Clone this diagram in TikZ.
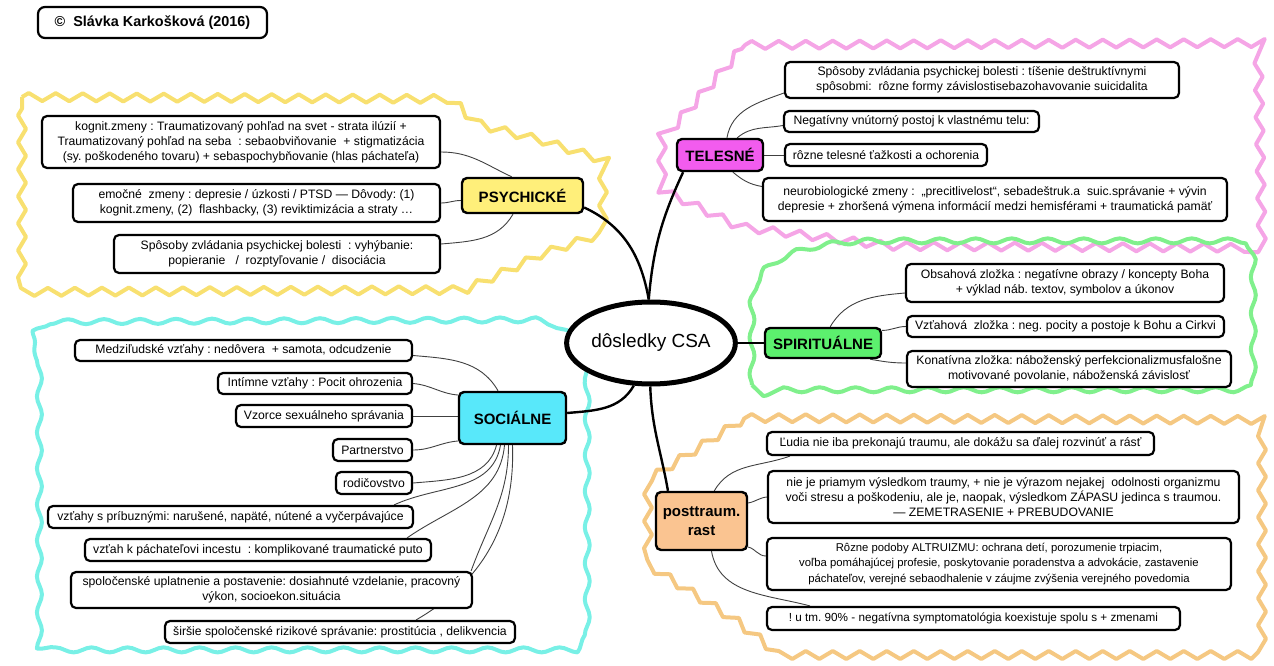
\documentclass[tikz,border=0pt]{standalone}
\usepackage{fontspec}
\setmainfont{Liberation Sans}
\frenchspacing
\usetikzlibrary{shapes.geometric,decorations.pathmorphing,backgrounds}

\definecolor{psyfill}{RGB}{255,239,122}
\definecolor{psyline}{RGB}{248,224,112}
\definecolor{telfill}{RGB}{242,92,238}
\definecolor{telline}{RGB}{245,165,230}
\definecolor{spifill}{RGB}{92,240,110}
\definecolor{spiline}{RGB}{128,240,140}
\definecolor{socfill}{RGB}{88,232,250}
\definecolor{socline}{RGB}{120,240,230}
\definecolor{ptrfill}{RGB}{250,196,145}
\definecolor{ptrline}{RGB}{245,200,130}

\begin{document}
\begin{tikzpicture}[x=1pt,y=1pt,
    leaf/.style={draw,line width=2.2pt,rounded corners=5pt,fill=white,align=center,
      inner sep=2pt,font=\fontsize{12.2}{15}\selectfont},
    topic/.style={draw,line width=2.4pt,rounded corners=5pt,align=center,inner sep=2pt,
      font=\fontsize{15}{19}\selectfont\bfseries},
    twig/.style={line width=0.9pt,draw=black!75},
    branch/.style={line width=2.4pt},
    zig/.style={line width=4pt,line join=round,decorate,
      decoration={zigzag,segment length=27pt,amplitude=4pt}},
    wave/.style={line width=4pt,line join=round,decorate,
      decoration={snake,segment length=36pt,amplitude=2.5pt}}]

    \useasboundingbox (0,0) rectangle (1274,-666);

    \node[leaf,minimum width=229pt,minimum height=31pt,rounded corners=7pt,
      font=\fontsize{14.4}{17}\selectfont\bfseries] (cpr) at (152.5,-22.5) {©\ \ Slávka Karkošková (2016)};

    \node[ellipse,draw,line width=5pt,fill=white,minimum width=163pt,minimum height=82pt,
      inner sep=0pt,font=\fontsize{19}{22}\selectfont] (csa) at (651,-343) {dôsledky CSA};

    \node[topic,fill=psyfill,minimum width=121pt,minimum height=35pt] (psy) at (522.5,-195.5) {PSYCHICKÉ};
    \node[topic,fill=telfill,minimum width=86pt,minimum height=32pt] (tel) at (720,-155) {TELESNÉ};
    \node[topic,fill=spifill,minimum width=116pt,minimum height=30pt] (spi) at (823,-343) {SPIRITUÁLNE};
    \node[topic,fill=socfill,minimum width=107pt,minimum height=52pt] (soc) at (512.5,-418) {SOCIÁLNE};
    \node[topic,fill=ptrfill,minimum width=91pt,minimum height=58pt] (ptr) at (701.5,-521) {posttraum.\\rast};

    \node[leaf,minimum width=398pt,minimum height=52pt] (kog) at (241,-142)
      {kognit.zmeny : Traumatizovaný pohľad na svet - strata ilúzií +\\
       Traumatizovaný pohľad na seba \ : sebaobviňovanie \ + stigmatizácia\\
       (sy. poškodeného tovaru) + sebaspochybňovanie (hlas páchateľa)};
    \node[leaf,minimum width=367pt,minimum height=38pt] (emo) at (256.5,-203)
      {emočné \ zmeny : depresie / úzkosti / PTSD — Dôvody: (1)\\
       kognit.zmeny, (2) \ flashbacky, (3) reviktimizácia a straty …};
    \node[leaf,minimum width=326pt,minimum height=38pt] (spo) at (277,-254)
      {Spôsoby zvládania psychickej bolesti \ : vyhýbanie:\\
       popieranie \ \ / \ rozptyľovanie / \ disociácia};

    \node[leaf,minimum width=394pt,minimum height=36pt] (t1) at (982,-80)
      {Spôsoby zvládania psychickej bolesti : tíšenie deštruktívnymi\\
       spôsobmi: \ rôzne formy závislostisebazohavovanie suicidalita};
    \node[leaf,minimum width=255pt,minimum height=21pt] (t2) at (911.5,-121.5)
      {Negatívny vnútorný postoj k vlastnému telu:};
    \node[leaf,minimum width=202pt,minimum height=22pt] (t3) at (886,-155)
      {rôzne telesné ťažkosti a ochorenia};
    \node[leaf,minimum width=464pt,minimum height=43pt] (t4) at (995,-199.5)
      {neurobiologické zmeny : \ „precitlivelost“, sebadeštruk.a \ suic.správanie + vývin\\
       depresie + zhoršená výmena informácií medzi hemisférami + traumatická pamäť};

    \node[leaf,minimum width=318pt,minimum height=38pt] (s1) at (1065,-283)
      {Obsahová zložka : negatívne obrazy / koncepty Boha\\
       + výklad náb. textov, symbolov a úkonov};
    \node[leaf,minimum width=317pt,minimum height=21pt] (s2) at (1065.5,-326.5)
      {Vzťahová \ zložka : neg. pocity a postoje k Bohu a Cirkvi};
    \node[leaf,minimum width=324pt,minimum height=36pt] (s3) at (1069,-369)
      {Konatívna zložka: náboženský perfekcionalizmusfalošne\\
       motivované povolanie, náboženská závislosť};

    \node[leaf,minimum width=337pt,minimum height=21pt] (so1) at (243.5,-350.5)
      {Medziľudské vzťahy : nedôvera \ + samota, odcudzenie};
    \node[leaf,minimum width=194pt,minimum height=21pt] (so2) at (315,-383.5)
      {Intímne vzťahy : Pocit ohrozenia};
    \node[leaf,minimum width=176pt,minimum height=22pt] (so3) at (324,-416)
      {Vzorce sexuálneho správania};
    \node[leaf,minimum width=79pt,minimum height=22pt] (so4) at (372.5,-450) {Partnerstvo};
    \node[leaf,minimum width=76pt,minimum height=22pt] (so5) at (374,-483) {rodičovstvo};
    \node[leaf,minimum width=365pt,minimum height=22pt] (so6) at (230.5,-517)
      {vzťahy s príbuznými: narušené, napäté, nútené a vyčerpávajúce};
    \node[leaf,minimum width=346pt,minimum height=22pt] (so7) at (258,-550)
      {vzťah k páchateľovi incestu \ : komplikované traumatické puto};
    \node[leaf,minimum width=401pt,minimum height=36pt] (so8) at (271.5,-590)
      {spoločenské uplatnenie a postavenie: dosiahnuté vzdelanie, pracovný\\
       výkon, socioekon.situácia};
    \node[leaf,minimum width=350pt,minimum height=22pt] (so9) at (340,-632)
      {širšie spoločenské rizikové správanie: prostitúcia , delikvencia};

    \node[leaf,minimum width=387pt,minimum height=23pt] (p1) at (960.5,-443.5)
      {Ľudia nie iba prekonajú traumu, ale dokážu sa ďalej rozvinúť a rásť};
    \node[leaf,minimum width=471pt,minimum height=52pt] (p2) at (1003.5,-497)
      {nie je priamym výsledkom traumy, + nie je výrazom nejakej \ odolnosti organizmu\\
       voči stresu a poškodeniu, ale je, naopak, výsledkom ZÁPASU jedinca s traumou.\\
       — ZEMETRASENIE + PREBUDOVANIE};
    \node[leaf,minimum width=464pt,minimum height=52pt,font=\fontsize{11.3}{15.5}\selectfont] (p3) at (999,-564)
      {Rôzne podoby ALTRUIZMU: ochrana detí, porozumenie trpiacim,\\
       voľba pomáhajúcej profesie, poskytovanie poradenstva a advokácie, zastavenie\\
       páchateľov, verejné sebaodhalenie v záujme zvýšenia verejného povedomia};
    \node[leaf,minimum width=413pt,minimum height=23pt,font=\fontsize{11.7}{15}\selectfont] (p4) at (973.5,-618.5)
      {! u tm. 90\% - negatívna symptomatológia koexistuje spolu s + zmenami};

    \begin{scope}[on background layer]
    \draw[zig,draw=psyline] (22,-97) -- (450,-99) -- (480,-125) -- (540,-140) -- (603,-160)
      -- (603,-233) -- (545,-253) -- (465,-290) -- (22,-292) -- cycle;
    \draw[zig,draw=telline] (745,-45) -- (1258,-43) -- (1262,-248) -- (890,-246)
      -- (740,-227) -- (662,-190) -- (662,-140) -- cycle;
    \draw[zig,draw=ptrline] (745,-418) -- (1262,-420) -- (1262,-655) -- (780,-655)
      -- (735,-620) -- (648,-565) -- (648,-480) -- cycle;
    \draw[wave,draw=socline] (35,-342) .. controls (35,-334) and (38,-330) .. (46,-330)
      -- (530,-328) .. controls (570,-330) and (585,-360) .. (585,-400)
      -- (585,-644) .. controls (585,-652) and (580,-656) .. (572,-656)
      -- (48,-656) .. controls (40,-656) and (35,-652) .. (35,-644) -- cycle;
    \draw[wave,draw=spiline] (752,-385) -- (752,-310) .. controls (752,-270) and (800,-250) .. (880,-250)
      -- (1240,-250) .. controls (1248,-250) and (1252,-254) .. (1252,-262)
      -- (1252,-384) .. controls (1252,-392) and (1248,-396) .. (1240,-396)
      -- (764,-396) .. controls (756,-396) and (752,-392) .. cycle;

    \draw[branch] (csa.93) to[out=100,in=-25] ([yshift=-12pt]psy.east);
    \draw[branch] (csa.93) to[out=85,in=-115] (tel.205);
    \draw[branch] (csa.east) -- (spi.west);
    \draw[branch] (csa.248) to[out=-120,in=5] ([yshift=5pt]soc.east);
    \draw[branch] (csa.-91) to[out=-88,in=100] (ptr.138);

    \draw[twig] ([yshift=-10pt]kog.east) to[out=0,in=155] (psy.120);
    \draw[twig] (emo.east) to[out=0,in=180] ([yshift=-5pt]psy.west);
    \draw[twig] ([yshift=10pt]spo.east) to[out=5,in=-120] (psy.243);

    \draw[twig] (tel.68) to[out=80,in=200] ([yshift=-13pt]t1.west);
    \draw[twig] (tel.45) to[out=40,in=190] ([yshift=-4pt]t2.west);
    \draw[twig] (tel.east) -- (t3.west);
    \draw[twig] (tel.-53) to[out=-40,in=170] ([yshift=13pt]t4.west);

    \draw[twig] (spi.66) to[out=60,in=185] ([yshift=-10pt]s1.west);
    \draw[twig] (spi.12) to[out=0,in=180] (s2.west);
    \draw[twig] (spi.-19) to[out=-10,in=180] ([yshift=6pt]s3.west);

    \draw[twig] ([yshift=-5pt]so1.east) to[out=-5,in=120] (soc.118);
    \draw[twig] (so2.east) to[out=-5,in=175] ([yshift=23pt]soc.west);
    \draw[twig] (so3.east) -- ([yshift=2pt]soc.west);
    \draw[twig] (so4.east) to[out=0,in=185] ([yshift=-23pt]soc.west);
    \draw[twig] ([xshift=-16pt]soc.south) to[out=-105,in=5] (so5.east);
    \draw[twig] ([xshift=-12pt]soc.south) to[out=-100,in=25] ([xshift=-20pt]so6.north east);
    \draw[twig] ([xshift=-8pt]soc.south) to[out=-95,in=35] ([xshift=-25pt]so7.north east);
    \draw[twig] ([xshift=-4pt]soc.south) to[out=-90,in=70] ([xshift=-2pt]so8.north east);
    \draw[twig] (soc.south) to[out=-88,in=30] ([xshift=-100pt]so9.north east);

    \draw[twig] ([xshift=24pt]p1.south west) to[out=200,in=60] (ptr.67);
    \draw[twig] ([yshift=18pt]ptr.east) to[out=10,in=185] (p2.west);
    \draw[twig] ([yshift=-26pt]ptr.east) to[out=-15,in=180] ([yshift=8pt]p3.west);
    \draw[twig] ([xshift=10pt]ptr.south) to[out=-80,in=165] ([xshift=44pt]p4.north west);
    \end{scope}

\end{tikzpicture}
\end{document}
